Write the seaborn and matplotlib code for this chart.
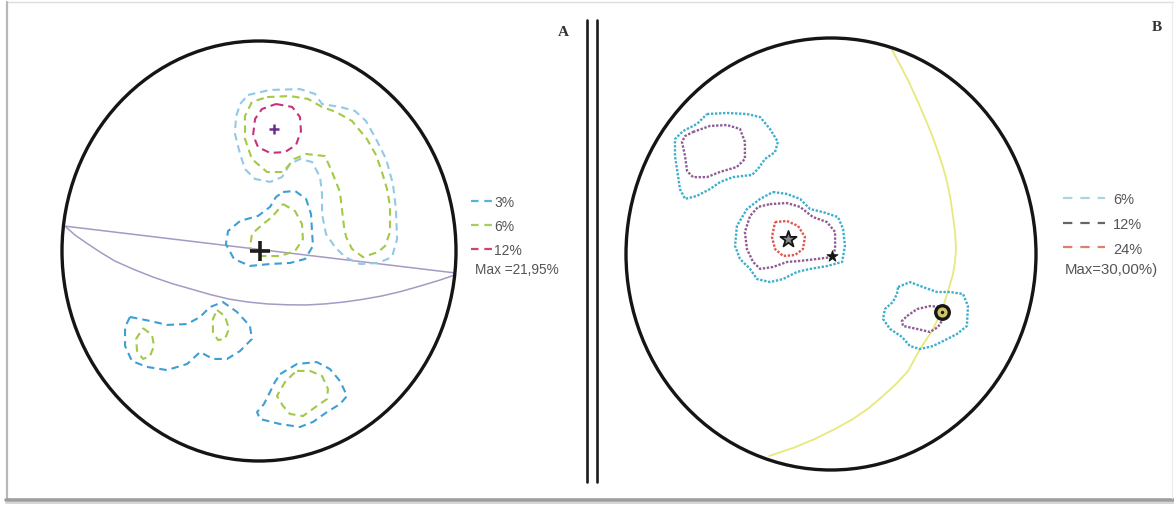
import numpy as np
import matplotlib
matplotlib.use("Agg")
import matplotlib.pyplot as plt
from matplotlib.patches import Ellipse
from matplotlib.lines import Line2D
import seaborn as sns

# ------------------------------------------------------------------
# Diagram A - pole density contours, net of unit radius (east, north)
# ------------------------------------------------------------------
a_levels = ["3%", "6%", "12%"]
a_max_label = "Max =21,95%"

a_c3_top = [(-0.056, 0.743), (0.056, 0.767), (0.208, 0.771), (0.284, 0.748), (0.320, 0.700),
            (0.411, 0.686), (0.487, 0.667), (0.543, 0.619), (0.594, 0.533), (0.645, 0.438),
            (0.680, 0.319), (0.695, 0.200), (0.701, 0.057), (0.675, -0.029), (0.604, -0.057),
            (0.513, -0.062), (0.437, -0.029), (0.386, 0.019), (0.340, 0.081), (0.320, 0.176),
            (0.320, 0.271), (0.310, 0.352), (0.269, 0.424), (0.208, 0.438), (0.157, 0.414),
            (0.117, 0.352), (0.056, 0.329), (-0.020, 0.343), (-0.071, 0.390), (-0.096, 0.462),
            (-0.122, 0.557), (-0.117, 0.638), (-0.096, 0.700)]
a_c3_mid = [(0.122, 0.281), (0.183, 0.286), (0.239, 0.248), (0.264, 0.176), (0.269, 0.095),
            (0.274, 0.024), (0.234, -0.038), (0.157, -0.057), (0.056, -0.062), (-0.046, -0.071),
            (-0.127, -0.038), (-0.168, 0.033), (-0.157, 0.095), (-0.096, 0.143), (-0.005, 0.167),
            (0.056, 0.210), (0.086, 0.257)]
a_c3_sw = [(-0.655, -0.314), (-0.553, -0.333), (-0.467, -0.352), (-0.365, -0.348), (-0.299, -0.314),
           (-0.249, -0.267), (-0.183, -0.243), (-0.112, -0.290), (-0.046, -0.357), (-0.036, -0.419),
           (-0.096, -0.476), (-0.162, -0.514), (-0.234, -0.514), (-0.299, -0.481), (-0.365, -0.538),
           (-0.467, -0.567), (-0.569, -0.552), (-0.645, -0.524), (-0.680, -0.452), (-0.680, -0.362)]
a_c3_s = [(0.107, -0.586), (0.193, -0.538), (0.294, -0.529), (0.360, -0.562), (0.411, -0.619),
          (0.447, -0.690), (0.411, -0.729), (0.345, -0.767), (0.274, -0.814), (0.208, -0.838),
          (0.107, -0.824), (0.005, -0.800), (-0.010, -0.767), (0.025, -0.729), (0.056, -0.671),
          (0.081, -0.624)]

a_c6_top = [(0.041, 0.733), (0.157, 0.738), (0.249, 0.724), (0.320, 0.686), (0.391, 0.662),
            (0.472, 0.619), (0.548, 0.533), (0.594, 0.457), (0.624, 0.376), (0.650, 0.295),
            (0.665, 0.214), (0.665, 0.090), (0.640, 0.024), (0.604, -0.005), (0.528, -0.029),
            (0.472, 0.010), (0.442, 0.067), (0.431, 0.119), (0.421, 0.200), (0.411, 0.281),
            (0.371, 0.376), (0.335, 0.452), (0.239, 0.462), (0.178, 0.438), (0.122, 0.376),
            (0.041, 0.376), (-0.036, 0.438), (-0.071, 0.533), (-0.071, 0.643), (-0.036, 0.710)]
a_c6_mid = [(0.122, 0.224), (0.183, 0.190), (0.218, 0.129), (0.223, 0.057), (0.183, 0.000),
            (0.107, -0.024), (0.015, -0.024), (-0.046, 0.010), (-0.036, 0.081), (0.015, 0.124),
            (0.066, 0.162)]
a_c6_sw = [(-0.589, -0.367), (-0.543, -0.400), (-0.533, -0.452), (-0.553, -0.500), (-0.589, -0.514),
           (-0.619, -0.476), (-0.624, -0.419)]
a_c6_ssw = [(-0.213, -0.281), (-0.173, -0.310), (-0.152, -0.371), (-0.173, -0.419), (-0.208, -0.424),
            (-0.234, -0.386), (-0.234, -0.324)]
a_c6_s = [(0.193, -0.571), (0.259, -0.571), (0.320, -0.595), (0.350, -0.657), (0.345, -0.705),
          (0.294, -0.738), (0.223, -0.786), (0.157, -0.776), (0.122, -0.738), (0.091, -0.690),
          (0.132, -0.624), (0.173, -0.586)]

a_c12_top = [(0.086, 0.700), (0.168, 0.686), (0.208, 0.638), (0.213, 0.571), (0.188, 0.505),
             (0.132, 0.471), (0.056, 0.467), (-0.005, 0.495), (-0.030, 0.552), (-0.020, 0.629),
             (0.015, 0.676)]

# traces of the two planes
a_plane_vertical = [(-0.990, 0.119), (1.000, -0.105)]
a_plane_dipping = [(-0.980, 0.114), (-0.934, 0.076), (-0.868, 0.033), (-0.800, -0.009),
                   (-0.731, -0.048), (-0.635, -0.088), (-0.538, -0.124), (-0.442, -0.155),
                   (-0.345, -0.181), (-0.249, -0.207), (-0.152, -0.229), (-0.056, -0.243),
                   (0.041, -0.252), (0.140, -0.256), (0.239, -0.257), (0.335, -0.252),
                   (0.431, -0.243), (0.528, -0.230), (0.624, -0.214), (0.720, -0.193),
                   (0.817, -0.167), (0.910, -0.141), (0.995, -0.114)]
a_density_max = (0.076, 0.581)
a_mean_pole = (0.005, 0.000)

# ------------------------------------------------------------------
# Diagram B
# ------------------------------------------------------------------
b_levels = ["6%", "12%", "24%"]
b_max_label = "Max=30,00%)"

b_c6_nw = [(-0.605, 0.648), (-0.507, 0.653), (-0.410, 0.648), (-0.346, 0.634), (-0.298, 0.579),
           (-0.259, 0.519), (-0.273, 0.472), (-0.322, 0.440), (-0.356, 0.394), (-0.385, 0.366),
           (-0.478, 0.356), (-0.541, 0.333), (-0.590, 0.301), (-0.654, 0.269), (-0.712, 0.255),
           (-0.737, 0.301), (-0.746, 0.361), (-0.761, 0.454), (-0.761, 0.532), (-0.722, 0.569),
           (-0.654, 0.602)]
b_c6_mid = [(-0.283, 0.287), (-0.215, 0.278), (-0.151, 0.255), (-0.102, 0.208), (-0.039, 0.194),
            (0.034, 0.171), (0.059, 0.116), (0.068, 0.037), (0.054, -0.037), (-0.020, -0.056),
            (-0.102, -0.069), (-0.166, -0.083), (-0.234, -0.116), (-0.298, -0.130), (-0.361, -0.116),
            (-0.395, -0.069), (-0.444, -0.023), (-0.468, 0.037), (-0.459, 0.130), (-0.410, 0.208),
            (-0.346, 0.255)]
b_c6_se = [(0.327, -0.153), (0.385, -0.130), (0.449, -0.153), (0.517, -0.176), (0.580, -0.176),
           (0.644, -0.185), (0.668, -0.241), (0.663, -0.333), (0.615, -0.370), (0.566, -0.394),
           (0.498, -0.426), (0.434, -0.440), (0.385, -0.426), (0.346, -0.384), (0.288, -0.347),
           (0.254, -0.301), (0.263, -0.255), (0.302, -0.222), (0.322, -0.185)]

b_c12_nw = [(-0.673, 0.565), (-0.590, 0.593), (-0.507, 0.597), (-0.444, 0.579), (-0.420, 0.519),
            (-0.420, 0.440), (-0.459, 0.403), (-0.541, 0.380), (-0.605, 0.356), (-0.673, 0.356),
            (-0.702, 0.384), (-0.712, 0.454), (-0.727, 0.519), (-0.712, 0.546)]
b_c12_mid = [(-0.298, 0.231), (-0.215, 0.236), (-0.151, 0.218), (-0.088, 0.171), (-0.020, 0.148),
             (0.020, 0.102), (0.020, 0.023), (0.005, -0.014), (-0.068, -0.023), (-0.151, -0.032),
             (-0.215, -0.037), (-0.283, -0.060), (-0.346, -0.069), (-0.380, -0.037), (-0.410, 0.023),
             (-0.420, 0.102), (-0.395, 0.176), (-0.356, 0.218)]
b_c12_se = [(0.371, -0.287), (0.420, -0.255), (0.483, -0.241), (0.532, -0.245), (0.556, -0.287),
            (0.522, -0.338), (0.483, -0.361), (0.420, -0.347), (0.351, -0.333), (0.346, -0.310)]

b_c24_mid = [(-0.273, 0.148), (-0.215, 0.153), (-0.161, 0.130), (-0.127, 0.079), (-0.137, 0.023),
             (-0.176, -0.005), (-0.234, -0.009), (-0.273, 0.023), (-0.288, 0.079)]

b_plane = [(0.298, 0.944), (0.340, 0.870), (0.380, 0.796), (0.418, 0.718), (0.454, 0.639),
           (0.488, 0.562), (0.517, 0.486), (0.544, 0.410), (0.566, 0.333), (0.583, 0.255),
           (0.595, 0.176), (0.605, 0.100), (0.610, 0.023), (0.605, -0.035), (0.595, -0.093),
           (0.571, -0.171), (0.541, -0.264), (0.493, -0.356), (0.434, -0.440), (0.376, -0.542),
           (0.317, -0.602), (0.254, -0.657), (0.185, -0.713), (0.107, -0.764), (0.020, -0.810),
           (-0.078, -0.856), (-0.185, -0.898), (-0.302, -0.935)]
b_density_max = (-0.210, 0.069)
b_axis_point = (0.005, -0.009)
b_plane_pole = (0.541, -0.269)

# ------------------------------------------------------------------
W, H = 1174, 506
sns.set_theme(style="white")
plt.rcParams["font.family"] = ["Liberation Sans", "DejaVu Sans"]

fig = plt.figure(figsize=(W / 100, H / 100), dpi=100)
fig.patch.set_facecolor("white")

# page frame, separator and panel letters drawn in pixel space
bg = fig.add_axes([0, 0, 1, 1])
bg.set_xlim(0, W)
bg.set_ylim(H, 0)
bg.axis("off")
bg.plot([7, W], [2.5, 2.5], color="#dcdcdc", lw=1.0)
bg.plot([6.5, 6.5], [3, 500], color="#b8b8b8", lw=1.6)
bg.plot([6, W], [500.5, 500.5], color="#9e9e9e", lw=2.6)
bg.plot([6, W], [503.5, 503.5], color="#d6d6d6", lw=1.4)
bg.plot([1172, 1172], [3, 499], color="#ececec", lw=1.0)
bg.plot([586.5, 586.5], [21, 483], color="#1c1c1c", lw=1.9)
bg.plot([597.0, 597.0], [21, 483], color="#1c1c1c", lw=1.9)
bg.text(563.5, 32.5, "A", ha="center", va="center", fontsize=11, fontweight="bold",
        family="Liberation Serif", color="#333333")
bg.text(1157, 27, "B", ha="center", va="center", fontsize=11, fontweight="bold",
        family="Liberation Serif", color="#333333")


def net_axes(cx, cy, rx, ry):
    ax = fig.add_axes([(cx - rx) / W, (H - cy - ry) / H, 2 * rx / W, 2 * ry / H])
    ax.set_xlim(-1, 1)
    ax.set_ylim(-1, 1)
    ax.axis("off")
    ax.patch.set_alpha(0)
    ax.add_patch(Ellipse((0, 0), 2, 2, fill=False, ec="#151515", lw=2.4, clip_on=False, zorder=5))
    return ax


def trace(ax, pts, color, lw, ls, closed=True):
    a = np.asarray(list(pts) + ([pts[0]] if closed else []), dtype=float)
    sns.lineplot(x=a[:, 0], y=a[:, 1], sort=False, estimator=None, ax=ax, color=color,
                 linewidth=lw, linestyle=ls, legend=False)


# ---------------- Diagram A ----------------
ax_a = net_axes(259, 252, 197, 210)
dash_a = (0, (3.6, 2.4))
blue_a, light_blue_a, green_a, magenta_a = "#3d9fd2", "#93c9e6", "#a2c947", "#c8317c"

trace(ax_a, a_plane_vertical, "#a59ac4", 1.1, "-", closed=False)
trace(ax_a, a_plane_dipping, "#a59ac4", 1.1, "-", closed=False)

trace(ax_a, a_c3_top, light_blue_a, 1.5, dash_a)
for poly in (a_c3_mid, a_c3_sw, a_c3_s):
    trace(ax_a, poly, blue_a, 1.5, dash_a)
for poly in (a_c6_top, a_c6_mid, a_c6_sw, a_c6_ssw, a_c6_s):
    trace(ax_a, poly, green_a, 1.5, dash_a)
trace(ax_a, a_c12_top, magenta_a, 1.5, dash_a)

sns.scatterplot(x=[a_density_max[0]], y=[a_density_max[1]], marker="+", s=45, linewidth=1.8,
                color="#6a2f8e", ax=ax_a, zorder=6)
sns.scatterplot(x=[a_mean_pole[0]], y=[a_mean_pole[1]], marker="+", s=220, linewidth=2.6,
                color="#1e1e1e", ax=ax_a, zorder=6)

handles_a = [Line2D([], [], color=c, lw=1.6, linestyle=(0, (3.4, 2.6)))
             for c in ("#55b2de", "#a8cd5c", "#c9447f")]
ax_a.legend(handles_a, a_levels, loc="upper left", bbox_to_anchor=(471 / W, 1 - 196 / H),
            bbox_transform=fig.transFigure, frameon=False, fontsize=10, handlelength=1.6,
            handletextpad=0.08, labelspacing=0.72, borderpad=0, borderaxespad=0,
            labelcolor="#555555")
fig.text(475 / W, 1 - 270 / H, a_max_label, ha="left", va="center", fontsize=9.8, color="#555555")

# ---------------- Diagram B ----------------
ax_b = net_axes(831, 255, 205, 216)
dot_b = (0, (1.0, 0.7))
cyan_b, purple_b, red_b = "#3eaecd", "#8e5c93", "#e0574e"

trace(ax_b, b_plane, "#e8e87c", 1.3, "-", closed=False)
for poly in (b_c6_nw, b_c6_mid, b_c6_se):
    trace(ax_b, poly, cyan_b, 1.7, dot_b)
for poly in (b_c12_nw, b_c12_mid, b_c12_se):
    trace(ax_b, poly, purple_b, 1.7, dot_b)
trace(ax_b, b_c24_mid, red_b, 1.7, dot_b)

sns.scatterplot(x=[b_density_max[0]], y=[b_density_max[1]], marker="*", s=150, linewidth=1.3,
                facecolor="#8a8a8a", edgecolor="#151515", ax=ax_b, zorder=6)
sns.scatterplot(x=[b_axis_point[0]], y=[b_axis_point[1]], marker="*", s=70, linewidth=0.6,
                facecolor="#151515", edgecolor="#151515", ax=ax_b, zorder=6)
sns.scatterplot(x=[b_plane_pole[0]], y=[b_plane_pole[1]], marker="o", s=95, linewidth=2.4,
                facecolor="#cfc46a", edgecolor="#161616", ax=ax_b, zorder=6)
sns.scatterplot(x=[b_plane_pole[0]], y=[b_plane_pole[1]], marker="o", s=6, linewidth=0,
                color="#161616", ax=ax_b, zorder=7)

handles_b = [Line2D([], [], color=c, lw=1.6, linestyle=(0, (4.2, 3.6)))
             for c in ("#a8d4e4", "#666666", "#d9806f")]
ax_b.legend(handles_b, b_levels, loc="upper left", bbox_to_anchor=(1063 / W, 1 - 193 / H),
            bbox_transform=fig.transFigure, frameon=False, fontsize=10.5, handlelength=2.9,
            handletextpad=0.55, labelspacing=0.74, borderpad=0, borderaxespad=0,
            labelcolor="#555555")
fig.text(1065 / W, 1 - 270 / H, b_max_label, ha="left", va="center", fontsize=10.8,
         color="#555555")

fig.savefig("out.png", dpi=100, facecolor="white")
